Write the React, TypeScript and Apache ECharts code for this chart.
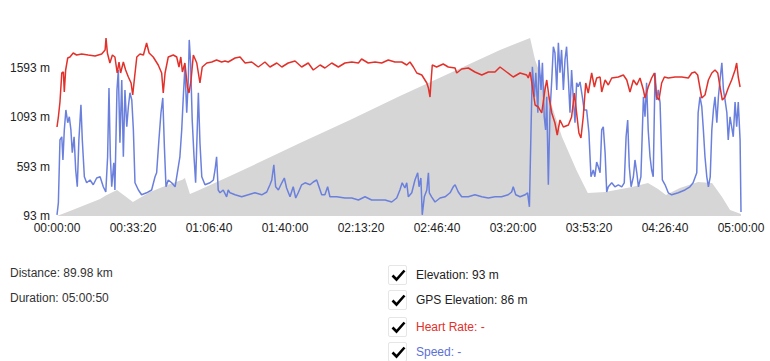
import React, { useEffect, useRef } from "react";
import * as echarts from "echarts";

// time in minutes, values in real units
const elevation: number[][] = [
  [0, 93], [5.7, 144], [12.3, 204], [18.9, 265], [21.4, 300], [26.3, 357], [29.8, 296], [33.3, 235],
  [40.8, 336], [49.6, 417], [55.0, 460], [56.1, 478], [58.3, 316], [61.4, 346], [75.9, 498],
  [89.0, 640], [106.6, 833], [128.5, 1066], [150.4, 1309], [172.4, 1542], [194.3, 1775],
  [207.5, 1897], [209.7, 1674], [216.2, 1269], [221.5, 894], [228.0, 549], [232.8, 326],
  [240.4, 336], [252.2, 387], [259.2, 427], [263.6, 367], [267.1, 306], [273.2, 377],
  [281.2, 438], [287.3, 427], [291.7, 286], [295.2, 154], [300, 113],
];

const heartRate: number[][] = [
  [0, 124.5], [0.6, 129.5], [1.3, 137], [2.1, 151.5], [2.8, 152], [3.2, 142], [3.8, 153], [4.7, 159],
  [5.7, 159.5], [7.1, 161.5], [8.6, 160.5], [10.8, 161], [13.7, 160.5], [16.7, 160], [19.6, 161],
  [21.1, 163], [21.5, 169], [22.1, 161.5], [23.2, 156.5], [24.3, 160.5], [25.4, 159.5], [26.4, 151.5],
  [27.2, 157], [27.9, 151.5], [29.1, 157], [30.1, 153], [31.3, 149.5], [32.5, 146.5], [33.2, 140.5],
  [33.9, 148], [35.0, 159.5], [36.4, 161], [37.9, 160.5], [39.3, 166.5], [40.4, 161.5], [42.2, 159.5],
  [44.4, 155.5], [45.9, 151.5], [46.6, 141.5], [47.4, 151.5], [48.8, 159.5], [51.0, 160.5],
  [52.5, 159.5], [53.5, 154.5], [54.3, 159.5], [55.0, 152], [56.1, 156.5], [57.2, 144.5],
  [57.9, 141.5], [58.8, 148], [59.8, 160.5], [61.3, 156.5], [62.7, 146.5], [63.7, 154.5],
  [65.7, 156.5], [67.9, 157], [70.0, 158], [72.2, 157], [73.7, 157.5], [75.1, 157], [78.1, 159],
  [80.3, 159.5], [82.5, 156.5], [85.4, 157], [88.3, 154.5], [91.2, 157], [93.4, 154.5], [96.4, 156.5],
  [98.6, 154.5], [101.4, 156.5], [104.4, 157.5], [107.3, 154.5], [110.2, 156.5], [112.4, 153],
  [115.4, 155.5], [117.5, 154], [120.5, 156.5], [123.4, 154.5], [126.3, 156.5], [129.3, 157],
  [132.2, 156.5], [133.6, 158.5], [136.5, 156.5], [139.5, 157], [142.4, 156.5], [145.3, 158],
  [148.2, 157], [151.2, 157], [153.4, 155.5], [154.8, 157], [156.3, 154.5], [157.8, 151.5],
  [160.0, 150.5], [162.2, 146.5], [162.9, 144], [163.6, 139.5], [164.0, 146.5], [164.6, 155.5],
  [166.5, 154.5], [169.4, 156], [171.6, 154.5], [174.6, 154], [175.3, 151.5], [177.5, 153.5],
  [180.4, 154], [183.3, 152], [186.3, 150.5], [189.2, 152], [192.1, 152], [194.3, 154.5],
  [197.2, 152], [200.1, 149.5], [203.1, 151.5], [206.0, 150.5], [206.7, 149], [207.5, 152],
  [208.2, 147], [209.7, 135.5], [211.1, 134.5], [212.6, 131.5], [214.0, 143], [214.8, 148],
  [215.8, 139.5], [217.0, 131.5], [218.4, 126.5], [219.4, 120.5], [220.6, 128], [222.1, 124.5],
  [224.3, 125.5], [225.7, 129.5], [226.9, 141.5], [227.9, 131.5], [228.9, 121.5], [229.8, 119],
  [230.8, 129.5], [231.9, 146.5], [233.0, 141.5], [234.5, 151.5], [235.7, 144.5], [236.7, 149],
  [238.2, 149.5], [238.9, 142], [240.4, 148], [241.8, 145.5], [243.3, 149], [246.2, 149.5],
  [248.4, 150.5], [249.9, 148], [251.3, 142], [252.8, 148], [254.3, 145.5], [255.7, 149],
  [257.2, 143], [257.9, 139], [259.3, 144.5], [260.8, 149], [262.0, 151.5], [263.0, 139.5],
  [264.0, 138], [265.2, 146.5], [266.4, 149.5], [268.1, 149], [271.1, 149.5], [274.0, 149.5],
  [276.9, 149], [278.4, 151.5], [279.8, 152], [281.0, 150.5], [282.0, 144], [282.8, 139],
  [284.2, 140.5], [285.7, 148], [287.2, 151.5], [288.6, 153], [289.8, 151.5], [290.8, 144.5],
  [291.8, 138], [293.0, 139.5], [294.4, 144], [295.9, 148], [297.4, 153], [298.1, 156.5],
  [298.8, 149.5], [299.6, 144.5],
];

const speed: number[][] = [
  [0, 0.3], [0.6, 3.3], [1.3, 19], [2.1, 19.8], [2.6, 14], [3.2, 21.5], [3.9, 26.5], [4.7, 23.3],
  [5.4, 24.8], [6.1, 21.5], [6.7, 15.8], [7.5, 19.8], [8.2, 11.5], [8.9, 7.3], [9.6, 19], [10.5, 27.8],
  [11.1, 19], [12.0, 9.8], [13.0, 8.3], [14.5, 9], [15.9, 7.8], [17.4, 9.5], [18.9, 9.8], [20.3, 7.3],
  [21.4, 6], [22.2, 14.8], [22.8, 32], [23.4, 14.8], [24.0, 7.3], [24.9, 13.3], [25.4, 6.5],
  [26.3, 31.5], [26.9, 36.5], [27.6, 18.3], [28.4, 34], [29.1, 14.8], [29.8, 31.5], [30.6, 22.3],
  [31.3, 27.3], [32.0, 30.8], [32.8, 29], [33.5, 21.5], [34.2, 8.3], [35.7, 6.5], [37.1, 5.3],
  [39.3, 5.8], [41.5, 6.5], [43.0, 9.8], [43.7, 10.8], [44.7, 19], [45.6, 25.8], [46.4, 29.5],
  [47.1, 17.3], [47.8, 7.3], [48.8, 9], [50.3, 8.3], [51.8, 7.3], [53.2, 12.3], [53.9, 14.8],
  [54.7, 21.5], [55.4, 29.8], [56.1, 37.3], [56.9, 25.8], [57.6, 34], [58.0, 44], [58.6, 38.3],
  [59.3, 24], [60.1, 14.8], [60.8, 8.3], [62.0, 30.8], [62.7, 18.3], [63.5, 9.8], [64.9, 7.8],
  [67.1, 8.3], [68.6, 9], [69.3, 11.5], [70.0, 14.8], [70.7, 6.5], [71.5, 5.8], [72.9, 6.5],
  [74.4, 4.8], [75.1, 6.5], [75.9, 5.8], [78.1, 5.3], [81.0, 4.8], [83.9, 5.3], [86.8, 5.8],
  [89.8, 5.3], [92.0, 6], [93.4, 7.8], [94.2, 9], [95.1, 12.8], [95.9, 7.3], [97.1, 6.5], [98.6, 8.3],
  [99.7, 9.5], [100.7, 7], [102.2, 4.8], [103.6, 7.3], [104.7, 4.5], [105.8, 5.8], [107.3, 7.8],
  [108.8, 8.3], [111.0, 7.8], [112.4, 8.5], [113.9, 9], [114.9, 7.3], [116.1, 5.3], [117.5, 5.3],
  [118.7, 7.3], [119.7, 4.8], [122.7, 4.8], [126.3, 4.5], [129.3, 4.5], [132.2, 4], [135.1, 4.8],
  [138.0, 4], [140.9, 4], [143.9, 4], [146.8, 3.5], [149.0, 4.5], [150.4, 6.5], [151.4, 8.3],
  [152.6, 7], [153.4, 8.3], [154.1, 4.8], [155.6, 5.8], [157.0, 9], [158.2, 10.8], [158.8, 7.3],
  [159.6, 9.5], [160.2, 0.3], [161.1, 4.8], [162.2, 6.5], [162.9, 10.8], [163.3, 5.8], [164.3, 4.8],
  [165.8, 3.5], [168.0, 4.5], [170.2, 4.8], [172.4, 5.8], [173.8, 7.3], [174.6, 7.8], [176.0, 6],
  [177.5, 4.8], [180.4, 4.8], [183.3, 5.3], [186.3, 4.8], [189.2, 4.5], [192.1, 4.8], [195.0, 4.8],
  [197.9, 5.3], [199.4, 6], [200.1, 7.3], [201.2, 5.3], [203.1, 4.8], [205.3, 5.3], [206.4, 5.8],
  [207.2, 2.3], [207.9, 21.5], [208.5, 37.3], [209.4, 29.8], [210.0, 35.8], [210.9, 25.8],
  [211.4, 39], [212.3, 31.5], [212.9, 38.3], [213.7, 24.8], [214.3, 21.5], [214.8, 29.8],
  [215.5, 7.8], [216.2, 25.8], [217.0, 34], [217.7, 42.3], [218.4, 40.8], [219.2, 31.5],
  [219.9, 43.3], [220.6, 35.8], [221.3, 41.5], [222.1, 31.5], [222.8, 39], [223.5, 42.3],
  [224.3, 34], [225.0, 25.8], [225.7, 36.5], [226.4, 29.8], [227.2, 23.3], [227.9, 33.3],
  [228.6, 32.3], [229.4, 33.5], [230.4, 29.8], [231.2, 26.5], [232.3, 26.5], [233.3, 20.8],
  [234.2, 9.8], [235.2, 11.5], [235.9, 9.8], [236.7, 13.5], [237.4, 12.3], [238.2, 10.8],
  [238.9, 21.5], [239.6, 22.3], [240.4, 15.8], [241.1, 6], [241.8, 7.3], [243.3, 8.3], [244.7, 7.3],
  [246.2, 7.8], [247.7, 7.3], [248.8, 8.3], [249.6, 19.8], [250.3, 24], [251.0, 12.3], [251.8, 7.3],
  [252.8, 9.8], [253.5, 14], [254.3, 10.8], [255.0, 7.3], [256.1, 9.8], [257.2, 29.8], [257.9, 24.8],
  [258.6, 33.3], [259.3, 21.5], [260.1, 14.8], [260.8, 11.5], [261.5, 9.8], [262.3, 35.8],
  [263.0, 29], [263.7, 31.5], [264.5, 28.3], [265.5, 9], [266.7, 7.8], [268.1, 5.8], [269.6, 5.3],
  [272.5, 5.8], [275.4, 6.5], [277.6, 7.3], [279.0, 8.3], [280.6, 10.8], [281.2, 25.8], [282.0, 29.8],
  [282.8, 27.3], [283.5, 21.5], [284.2, 14.8], [285.0, 9.8], [285.7, 7.3], [286.5, 9.8],
  [287.2, 21.5], [287.9, 26.5], [288.6, 29.8], [289.4, 23.3], [290.1, 29.8], [290.8, 34],
  [291.6, 38.3], [292.3, 31.5], [293.0, 29], [293.8, 25.8], [294.4, 19], [295.2, 24.8],
  [295.9, 22.3], [296.6, 19.8], [297.4, 28.5], [298.1, 22.3], [298.8, 28.5], [299.6, 19], [300, 1],
];

const summary = ["Distance: 89.98 km", "Duration: 05:00:50"];
const legendItems = [
  { label: "Elevation: 93 m", color: "#222222" },
  { label: "GPS Elevation: 86 m", color: "#222222" },
  { label: "Heart Rate: -", color: "#e2312b" },
  { label: "Speed: -", color: "#5d70d6" },
];

const toSec = (arr: number[][]) => arr.map(([m, v]) => [m * 60, v]);
const pad = (n: number) => String(n).padStart(2, "0");
const fmtTime = (s: number) => {
  const h = Math.floor(s / 3600);
  const m = Math.floor((s % 3600) / 60);
  const sec = Math.round(s % 60);
  return `${pad(h)}:${pad(m)}:${pad(sec)}`;
};

const FONT = '"Liberation Sans", Arial, sans-serif';

export default function App() {
  const ref = useRef<HTMLDivElement>(null);
  useEffect(() => {
    const chart = echarts.init(ref.current!, null, { renderer: "svg" });
    chart.setOption({
      animation: false,
      grid: { left: 57, right: 29, top: 18.7, bottom: 24, containLabel: false },
      xAxis: {
        type: "value",
        min: 0,
        max: 18000,
        interval: 2000,
        axisLine: { show: false },
        axisTick: { show: false },
        splitLine: { show: false },
        axisLabel: { formatter: (v: number) => fmtTime(v), color: "#222", fontSize: 12, fontFamily: FONT, margin: 6 },
      },
      yAxis: [
        {
          type: "value",
          min: 93,
          max: 2093,
          interval: 500,
          axisLine: { show: false },
          axisTick: { show: false },
          splitLine: { show: false },
          axisLabel: {
            formatter: (v: number) => (v > 1600 ? "" : `${v} m`),
            color: "#222",
            fontSize: 12,
            fontFamily: FONT,
            margin: 7,
          },
        },
        { type: "value", show: false, min: 80, max: 178.65, splitLine: { show: false } },
        { type: "value", show: false, min: 0, max: 49.3, splitLine: { show: false } },
      ],
      series: [
        {
          name: "Elevation",
          type: "line",
          yAxisIndex: 0,
          data: toSec(elevation),
          showSymbol: false,
          lineStyle: { width: 0 },
          itemStyle: { color: "#d6d6d6" },
          areaStyle: { color: "#d6d6d6", opacity: 1 },
          z: 1,
        },
        {
          name: "Speed",
          type: "line",
          yAxisIndex: 2,
          data: toSec(speed),
          showSymbol: false,
          lineStyle: { width: 1.5, color: "#6b80dc" },
          itemStyle: { color: "#6b80dc" },
          z: 2,
        },
        {
          name: "Heart Rate",
          type: "line",
          yAxisIndex: 1,
          data: toSec(heartRate),
          showSymbol: false,
          lineStyle: { width: 1.5, color: "#e2312b" },
          itemStyle: { color: "#e2312b" },
          z: 3,
        },
      ],
    });
    return () => chart.dispose();
  }, []);

  const rowCenters = [274.5, 300, 326.5, 352];
  return (
    <div
      style={{
        position: "absolute",
        left: 0,
        top: 0,
        width: 770,
        height: 361,
        background: "#fff",
        fontFamily: FONT,
        overflow: "hidden",
      }}
    >
      <div ref={ref} style={{ position: "absolute", left: 0, top: 0, width: 770, height: 240 }} />
      {summary.map((t, i) => (
        <div
          key={t}
          style={{ position: "absolute", left: 10, top: 266 + i * 25, fontSize: 12, lineHeight: "14px", color: "#333" }}
        >
          {t}
        </div>
      ))}
      {legendItems.map((it, i) => (
        <React.Fragment key={it.label}>
          <div
            style={{
              position: "absolute",
              left: 388,
              top: rowCenters[i] - 10,
              width: 19,
              height: 20,
              boxSizing: "border-box",
              border: "1px solid #e6e6e6",
              borderRadius: 2,
            }}
          >
            <svg width="15" height="13" viewBox="0 0 15 13" style={{ position: "absolute", left: 2, top: 3 }}>
              <polyline points="1.5,6.5 5.5,10.5 13.5,1.5" fill="none" stroke="#000" strokeWidth="2.6" />
            </svg>
          </div>
          <div
            style={{
              position: "absolute",
              left: 416,
              top: rowCenters[i] - 7,
              fontSize: 12,
              lineHeight: "14px",
              color: it.color,
              whiteSpace: "nowrap",
            }}
          >
            {it.label}
          </div>
        </React.Fragment>
      ))}
    </div>
  );
}
